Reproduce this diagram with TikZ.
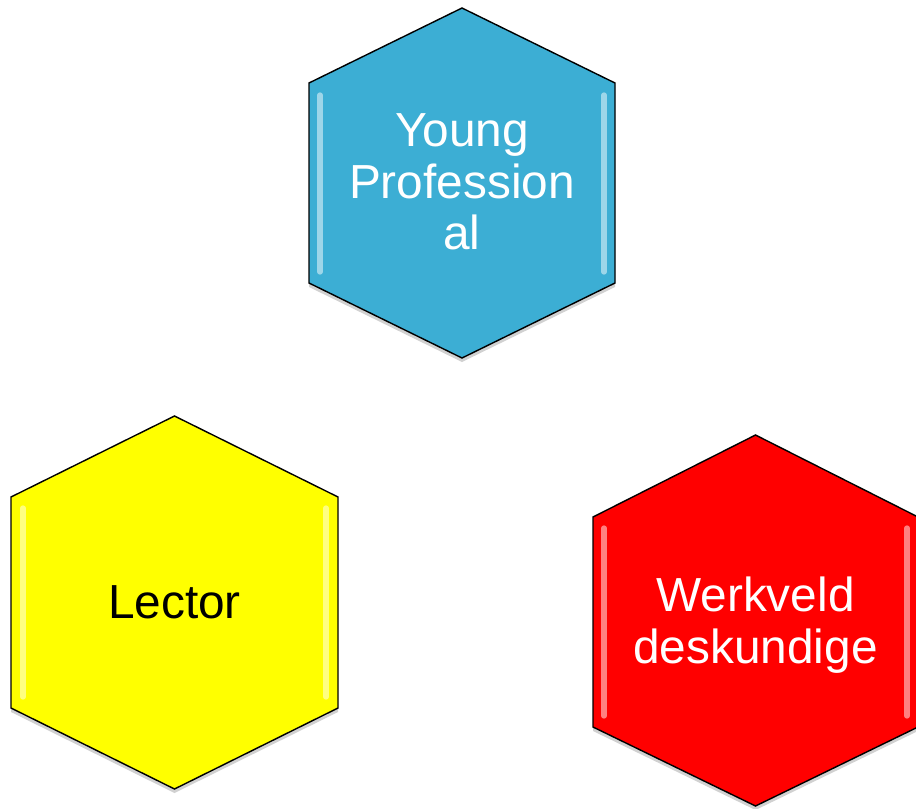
\documentclass[tikz,border=0pt]{standalone}
\usepackage{fontspec}
\setmainfont{Liberation Sans}
\definecolor{hexblue}{RGB}{60,174,212}
\definecolor{hexyellow}{RGB}{255,255,0}
\definecolor{hexred}{RGB}{255,0,0}
\tikzset{
  hexshape/.style={draw=black, line width=0.8pt, line join=miter},
  hexshadow/.style={fill=black, fill opacity=0.18},
  hexshine/.style={white, line width=3pt, line cap=round, opacity=0.5},
  hexlabel/.style={align=center, font=\fontsize{27.2}{29.3}\selectfont}
}
\begin{document}
\begin{tikzpicture}[line cap=round, line join=round, x=0.02cm, y=-0.02cm]

                \useasboundingbox (0,0) rectangle (916,808);

                % shadows
                \fill[hexshadow] (462,12) -- (615,87) -- (615,287) -- (462,362) -- (309,287) -- (309,87) -- cycle;
                \fill[hexshadow] (174.5,420) -- (338,501) -- (338,712) -- (174.5,793) -- (11,712) -- (11,501) -- cycle;
                \fill[hexshadow] (755.5,439) -- (918,521) -- (918,731) -- (755.5,810) -- (593,731) -- (593,521) -- cycle;

                % hexagons
                \draw[hexshape, fill=hexblue] (462,8) -- (615,83) -- (615,283) -- (462,358) -- (309,283) -- (309,83) -- cycle;
                \draw[hexshape, fill=hexyellow] (174.5,416) -- (338,497) -- (338,708) -- (174.5,789) -- (11,708) -- (11,497) -- cycle;
                \draw[hexshape, fill=hexred] (755.5,435) -- (918,517) -- (918,727) -- (755.5,806) -- (593,727) -- (593,517) -- cycle;

                % bevel highlights
                \draw[hexshine] (320,95) -- (320,272);
                \draw[hexshine] (604,95) -- (604,272);
                \draw[hexshine] (23,508) -- (23,697);
                \draw[hexshine] (326,508) -- (326,697);
                \draw[hexshine] (604,528) -- (604,716);
                \draw[hexshine] (907,528) -- (907,716);

                \node[hexlabel, text=white] (young) at (462,182) {Young\\Profession\\al};
                \node[hexlabel, text=black] (lector) at (174.5,602) {Lector};
                \node[hexlabel, text=white] (werkveld) at (755.5,625) {Werkveld\\deskundige};

            \end{tikzpicture}
\end{document}
